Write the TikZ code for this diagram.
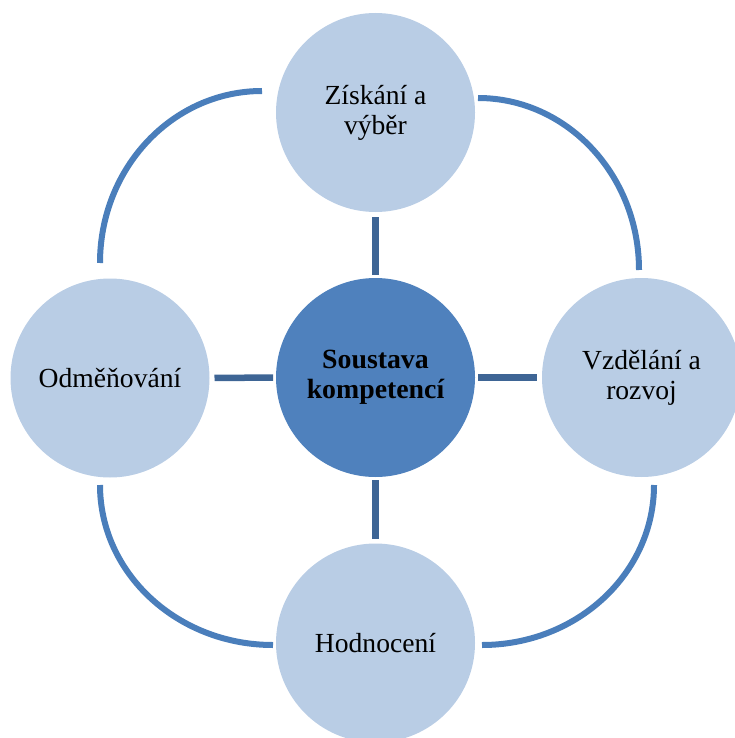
\documentclass[tikz,border=0pt]{standalone}
\usepackage{fontspec}
\setmainfont{Liberation Serif}
\definecolor{satfill}{HTML}{B9CDE5}
\definecolor{cenfill}{HTML}{4F81BD}
\definecolor{spoke}{HTML}{3E6595}
\definecolor{arcblue}{HTML}{4A7EBB}
\begin{document}
\begin{tikzpicture}[x=1pt,y=-1pt,
  sat/.style={circle,fill=satfill,minimum size=199pt,inner sep=0pt,outer sep=0pt,align=center,
    font=\fontsize{27.6}{30}\selectfont},
  cen/.style={circle,fill=cenfill,minimum size=199pt,inner sep=0pt,outer sep=0pt,align=center,
    font=\fontsize{27.8}{29.5}\selectfont\bfseries},
  spokeline/.style={draw=spoke,line width=6.5pt,shorten <=3pt,shorten >=5pt},
  ring/.style={draw=arcblue,line width=6pt}]
\useasboundingbox (0,0) rectangle (735,738);
\clip (0,0) rectangle (735,738);
\node[cen] (C) at (375.5,377.5) {Soustava\\kompetencí};
\node[sat] (T) at (375.5,112.5) {Získání a\\výběr};
\node[sat] (L) at (110,378) {Odměňování};
\node[sat] (R) at (641.5,377.5) {Vzdělání a\\rozvoj};
\node[sat] (B) at (375.5,643) {Hodnocení};
\draw[spokeline] (C) -- (T);
\draw[spokeline] (C) -- (L);
\draw[spokeline] (C) -- (R);
\draw[spokeline] (C) -- (B);
\coordinate (tl1) at (100,263);
\coordinate (tr1) at (478,98);
\coordinate (br1) at (654,485);
\coordinate (bl1) at (273,645);
\draw[ring] (tl1) arc[start angle=180,end angle=90,x radius=162pt,y radius=172pt];
\draw[ring] (tr1) arc[start angle=90,end angle=0,x radius=161pt,y radius=172pt];
\draw[ring] (br1) arc[start angle=0,end angle=-90,x radius=172pt,y radius=160pt];
\draw[ring] (bl1) arc[start angle=270,end angle=180,x radius=173pt,y radius=160pt];
\end{tikzpicture}
\end{document}
